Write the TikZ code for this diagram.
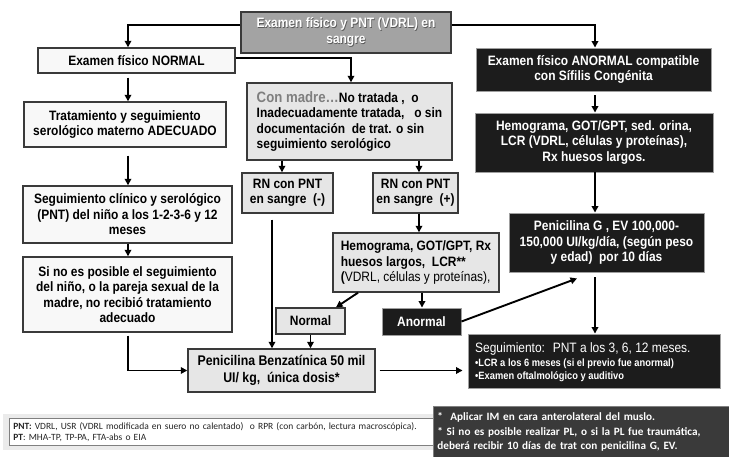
\documentclass[tikz,border=0pt]{standalone}
\usepackage{fontspec}
\setmainfont{Liberation Sans}[FakeStretch=0.88]
\newfontfamily\notefont{Carlito}
\usetikzlibrary{arrows.meta}

\definecolor{edgegray}{HTML}{3A3A3A}
\definecolor{lightfill}{HTML}{E6E6E6}
\definecolor{paperfill}{HTML}{F8F8F8}
\definecolor{topfill}{HTML}{A3A3A3}
\definecolor{darkfill}{HTML}{1C1C1C}
\definecolor{notefill}{HTML}{3A3A3A}
\definecolor{madregray}{HTML}{7F7F7F}

% white lettering with a soft dark drop shadow
\newcommand\shadowed[1]{\makebox[0pt][l]{\hspace{0.7pt}\raisebox{-0.7pt}{\color{black!65}#1}}#1}

\tikzset{
  base/.style={draw=edgegray, line width=1.4pt, inner sep=0pt, align=center,
    font=\bfseries\fontsize{13.6}{15.5}\selectfont},
  whitebox/.style={base, fill=paperfill},
  greybox/.style={base, fill=lightfill},
  topbox/.style={base, fill=topfill, text=white},
  darkbox/.style={base, fill=darkfill, draw=gray!75, line width=0.9pt, text=white},
  arr/.style={-{Triangle[length=6.5pt,width=6.5pt]}, line width=1.9pt, black},
}

\begin{document}
\begin{tikzpicture}[x=1pt,y=-1pt]
\useasboundingbox (0,0) rectangle (729,457);

% column guides for the vertical connectors
\coordinate (xL) at (128,0);
\coordinate (xR) at (595,0);
\coordinate (xM) at (351,0);
\coordinate (xA) at (282,0);
\coordinate (xB) at (419,0);
\coordinate (xC) at (272,0);
\coordinate (xD) at (422,0);

% ---- boxes ----
\node[topbox, minimum width=210pt, minimum height=41pt] (top) at (346,32.5)
  {\shadowed{Examen físico y PNT (VDRL) en}\\\shadowed{sangre}};

\node[whitebox, minimum width=197pt, minimum height=25pt] (normal) at (136.5,60.5)
  {Examen físico NORMAL};
\node[whitebox, minimum width=202pt, minimum height=45pt] (trat) at (125,124.5)
  {Tratamiento y seguimiento\\serológico materno ADECUADO};
\node[whitebox, minimum width=209pt, minimum height=57pt] (segc) at (127.5,214.5)
  {Seguimiento clínico y serológico\\(PNT) del niño a los 1-2-3-6 y 12\\meses};
\node[whitebox, minimum width=209pt, minimum height=75pt] (sino) at (127.5,294.5)
  {Si no es posible el seguimiento\\del niño, o la pareja sexual de la\\madre, no recibió tratamiento\\adecuado};

\node[greybox, minimum width=205pt, minimum height=77pt, align=left] (madre) at (349.5,121.5)
  {{\color{madregray}\fontsize{15}{16}\selectfont Con madre…}No tratada ,~ o\\Inadecuadamente tratada,~~ o sin\\documentación~ de trat. o sin\\seguimiento serológico};
\node[greybox, minimum width=91pt, minimum height=40pt] (rnm) at (287.5,193)
  {RN con PNT\\en sangre~ (-)};
\node[greybox, minimum width=85pt, minimum height=40pt] (rnp) at (415.5,193)
  {RN con PNT\\en sangre~ (+)};
\node[greybox, minimum width=166pt, minimum height=59pt, align=left] (hemol) at (416,262.5)
  {Hemograma, GOT/GPT, Rx\\huesos largos,~ LCR**\\({\mdseries VDRL, células y proteínas),}};
\node[greybox, minimum width=69pt, minimum height=26pt] (normalb) at (310.5,321)
  {Normal};
\node[darkbox, minimum width=79pt, minimum height=27pt] (anormalb) at (421.5,321.5)
  {Anormal};
\node[greybox, minimum width=187pt, minimum height=43pt,
      font=\bfseries\fontsize{14}{17}\selectfont] (benz) at (281.5,370.5)
  {Penicilina Benzatínica 50 mil\\UI/ kg,~ única dosis*};

\node[darkbox, minimum width=235pt, minimum height=43pt] (anormal) at (593.5,69.5)
  {Examen físico ANORMAL compatible\\con Sífilis Congénita};
\node[darkbox, minimum width=238pt, minimum height=59pt] (hemob) at (594,142.5)
  {Hemograma, GOT/GPT, sed. orina,\\LCR (VDRL, células y proteínas),\\Rx huesos largos.};
\node[darkbox, minimum width=195pt, minimum height=59pt] (peng) at (606.5,242.5)
  {Penicilina G , EV 100,000-\\150,000 UI/kg/día, (según peso\\y edad)~ por 10 días};
\node[darkbox, minimum width=252pt, minimum height=54pt] (seg) at (594,361) {};
\node[anchor=west, inner sep=0pt, align=left, text=white,
      font=\bfseries\fontsize{10.6}{13}\selectfont] (segtext) at (475,362)
  {{\mdseries\fontsize{13.6}{16}\selectfont Seguimiento:~ PNT a los 3, 6, 12 meses.}\\[1pt]
   •LCR a los 6 meses (si el previo fue anormal)\\•Examen oftalmológico y auditivo};

% ---- notes ----
\fill[black!8] (3,414) rectangle (436,450);
\node[draw=gray, line width=0.8pt, fill=white, anchor=north west, minimum width=424pt,
      minimum height=27pt, text width=416pt, inner xsep=4pt, inner ysep=2pt, align=left,
      text=black!85, font=\notefont\fontsize{9.5}{10.5}\selectfont] (pnt) at (9,418)
  {\textbf{PNT:} VDRL, USR (VDRL modificada en suero no calentado)~ o RPR (con carbón, lectura macroscópica).\\\textbf{PT}: MHA-TP, TP-PA, FTA-abs o EIA};
\node[draw=gray, line width=0.8pt, fill=notefill, text=white, anchor=north west,
      minimum width=296pt, minimum height=51pt, text width=288pt, inner xsep=4pt, inner ysep=2pt,
      align=left, font=\notefont\bfseries\fontsize{11.2}{14.5}\selectfont] (nota) at (433,406)
  {*~ Aplicar IM en cara anterolateral del muslo.\\** Si no es posible realizar PL, o si la PL fue traumática,\\deberá recibir 10 días de trat con penicilina G, EV.};

% ---- connectors ----
\draw[arr] ([yshift=7.5pt]top.west) -| (normal.north -| xL);
\draw[arr] ([yshift=7.5pt]top.east) -| (anormal.north -| xR);
\draw[arr] ([yshift=2.5pt]normal.east) -| (madre.north -| xM);
\draw[arr] ([yshift=-4pt]normal.south -| xL) -- (trat.north -| xL);
\draw[arr] ([yshift=-8pt]trat.south -| xL) -- (segc.north -| xL);
\draw[arr] (segc.south -| xL) -- (sino.north -| xL);
\draw[arr] ([yshift=-3pt]sino.south -| xL) |- (benz.west);
\draw[arr] (madre.south -| xA) -- (rnm.north -| xA);
\draw[arr] (madre.south -| xB) -- (rnp.north -| xB);
\draw[arr] ([yshift=-6pt]rnm.south -| xC) -- (benz.north -| xC);
\draw[arr] (rnp.south -| xB) -- (hemol.north -| xB);
\draw[arr] ([xshift=-58pt]hemol.south) -- ([xshift=25.5pt]normalb.north);
\draw[arr] (hemol.south -| xD) -- (anormalb.north -| xD);
\draw[arr] (normalb.south) -- (benz.north -| normalb.south);
\draw[arr] (anormalb.east) -- ([xshift=-29.5pt,yshift=-6pt]peng.south);
\draw[arr] ([yshift=-4pt]anormal.south -| xR) -- (hemob.north -| xR);
\draw[arr] (hemob.south -| xR) -- (peng.north -| xR);
\draw[arr] ([yshift=-5pt]peng.south -| xR) -- (seg.north -| xR);
\draw[arr] ([xshift=4pt]benz.east) -- ([xshift=-5pt]seg.west |- benz.east);
\end{tikzpicture}
\end{document}
